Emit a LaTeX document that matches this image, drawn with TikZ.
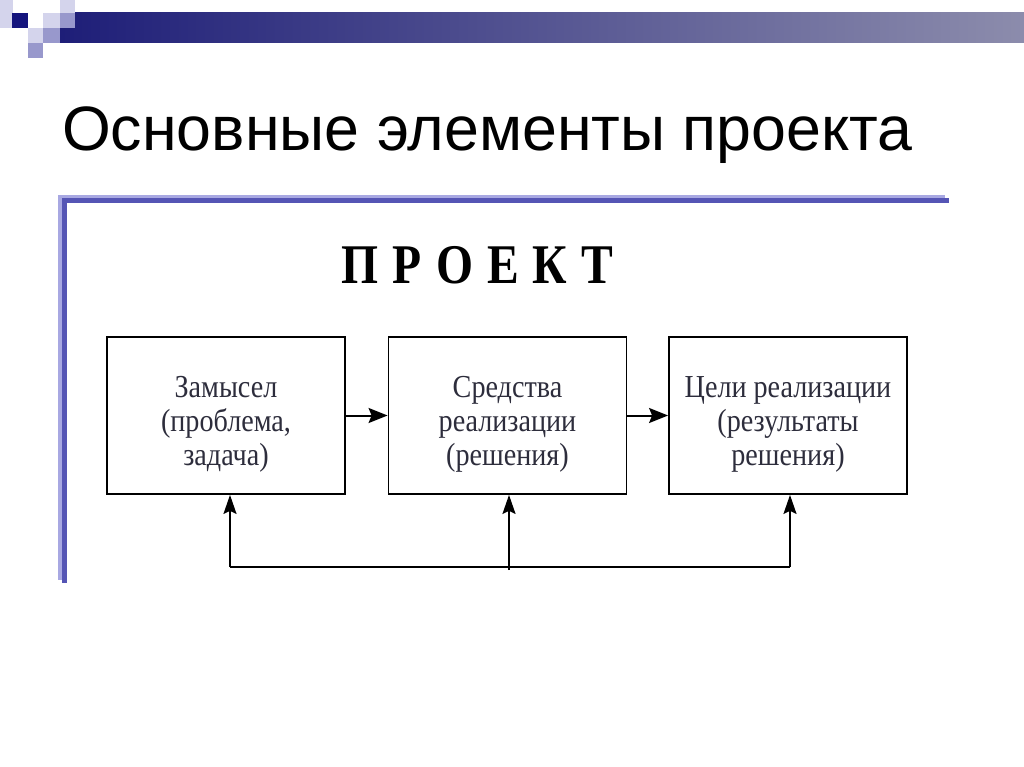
\documentclass[tikz,border=0pt]{standalone}
\usepackage{fontspec}
\setmainfont{Liberation Serif}
\newfontfamily\titlefont{Liberation Sans}
\newfontfamily\boxfont[FakeStretch=0.88]{Liberation Serif}
\newfontfamily\headfont[FakeStretch=0.85]{Liberation Serif}
\usetikzlibrary{arrows.meta}
\definecolor{navy}{RGB}{20,20,125}
\definecolor{barleft}{RGB}{30,30,120}
\definecolor{barright}{RGB}{140,140,172}
\definecolor{lightsq}{RGB}{212,212,236}
\definecolor{medsq}{RGB}{152,152,204}
\definecolor{framelight}{RGB}{168,168,226}
\definecolor{framedark}{RGB}{85,85,181}
\definecolor{boxtext}{RGB}{45,45,60}
\newcommand{\firstline}{\rule{0pt}{38pt}}
\tikzset{
  blockbox/.style={draw=black, line width=1.8pt, minimum width=238pt, minimum height=157pt,
    inner sep=0pt, align=center, font=\boxfont\fontsize{32}{34}\selectfont, text=boxtext},
  flowarrow/.style={line width=2pt, -{Stealth[length=19pt,width=15pt,inset=3pt]}},
  feedline/.style={line width=1.6pt},
  feedarrow/.style={line width=1.6pt, -{Stealth[length=19pt,width=13pt,inset=3pt]}}
}
\begin{document}
\begin{tikzpicture}[x=1pt,y=-1pt]
\useasboundingbox (0,0) rectangle (1024,767);
\fill[white] (0,0) rectangle (1024,767);
% header decoration
\shade[left color=barleft, right color=barright] (60,13) rectangle (1024,43);
\fill[lightsq] (0,0) rectangle (13,28);
\fill[lightsq] (60,0) rectangle (75,13);
\fill[lightsq] (43,13) rectangle (60,28);
\fill[medsq] (60,13) rectangle (75,28);
\fill[navy] (12,13) rectangle (28,28);
\fill[lightsq] (28,28) rectangle (43,43);
\fill[medsq] (43,28) rectangle (60,43);
\fill[medsq] (28,43) rectangle (43,58);
% title
\node[anchor=base west, inner sep=0pt, font=\titlefont\fontsize{62.7}{70}\selectfont] (title) at (62,151) {Основные элементы проекта};
% frame
\fill[framelight] (58,195) rectangle (945,198);
\fill[framelight] (58,195) rectangle (62,580);
\fill[framedark] (62,198) rectangle (949,203);
\fill[framedark] (62,198) rectangle (67,583);
% heading
\node[anchor=base, inner sep=0pt, font=\headfont\bfseries\fontsize{56}{60}\selectfont] (proj) at (477.5,283) {П\hspace{14pt}Р\hspace{14pt}О\hspace{14pt}Е\hspace{14pt}К\hspace{14pt}Т};
% boxes
\node[blockbox] (b1) at (226,415.5) {\firstline Замысел\\(проблема,\\задача)};
\node[blockbox] (b2) at (507.5,415.5) {\firstline Средства\\реализации\\(решения)};
\node[blockbox] (b3) at (788,415.5) {\firstline Цели реализации\\(результаты\\решения)};
\draw[flowarrow] (b1.east) -- (b2.west);
\draw[flowarrow] (b2.east) -- (b3.west);
% feedback
\coordinate (fl) at (230,567);
\coordinate (fr) at (790,567);
\coordinate (fm) at (509,570);
\draw[feedline] (fl) -- (fr);
\draw[feedarrow] (fl) -- (fl |- b1.south);
\draw[feedarrow] (fr) -- (fr |- b3.south);
\draw[feedarrow] (fm) -- (fm |- b2.south);
\end{tikzpicture}
\end{document}
